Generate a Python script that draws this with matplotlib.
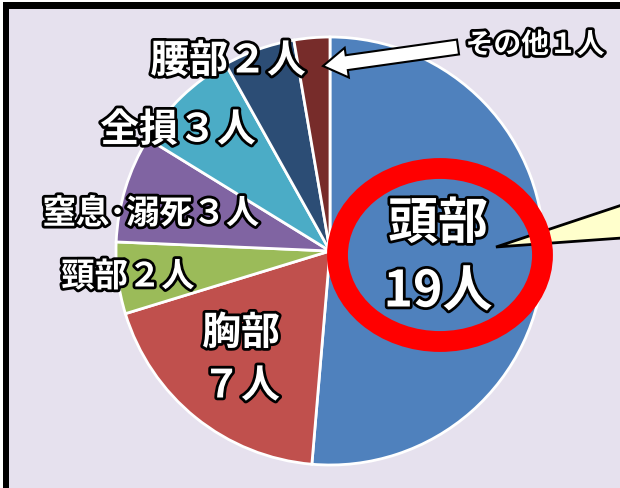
import matplotlib
matplotlib.use("Agg")
import matplotlib.pyplot as plt
import matplotlib.patches as mpatches
import matplotlib.patheffects as pe

plt.rcParams['font.family'] = ['Noto Sans CJK JP', 'DejaVu Sans']

# data: clockwise from the top
categories = ["頭部", "胸部", "頸部", "窒息･溺死", "全損", "腰部", "その他"]
counts = [19, 7, 2, 3, 3, 2, 1]
colors = ["#4f81bd", "#c0504d", "#9bbb59", "#8064a2", "#4bacc6", "#2c4d75", "#772c2a"]

W, H = 620, 488


def py(y):
    # pixel row (from top) -> data y
    return H - y


def wide(n):
    # full-width digits, as in the inline labels
    return str(n).translate(str.maketrans("0123456789", "０１２３４５６７８９"))


fig = plt.figure(figsize=(W / 100, H / 100), dpi=100)
fig.patch.set_facecolor("white")
ax = fig.add_axes([0, 0, 1, 1])

ax.add_patch(mpatches.Rectangle((3, 0), W, H - 3, facecolor="#e6e1ee", edgecolor="none", zorder=0))
ax.add_patch(mpatches.Rectangle((3, 0), 6, H - 2, facecolor="black", edgecolor="none", zorder=1))
ax.add_patch(mpatches.Rectangle((3, py(9)), W, 7, facecolor="black", edgecolor="none", zorder=1))

ax.pie(counts, colors=colors, startangle=90, counterclock=False,
       center=(330, py(251)), radius=214, frame=True,
       wedgeprops=dict(edgecolor="white", linewidth=2))
ax.set_xlim(0, W)
ax.set_ylim(0, H)
ax.set_aspect("equal")
ax.axis("off")

# speech callout wedge
ax.add_patch(mpatches.Polygon([(496, py(247)), (622, py(205)), (622, py(238))],
                              closed=True, facecolor="#ffffcc", edgecolor="black",
                              linewidth=2, zorder=4))

# red highlight ring
ax.add_patch(mpatches.Ellipse((440, py(255)), 205, 173, facecolor="none",
                              edgecolor="#ff0000", linewidth=15, zorder=5))

# arrow to その他
ax.add_patch(mpatches.FancyArrow(458, py(47), -135, py(66) - py(47), width=15,
                                 head_width=30, head_length=24, length_includes_head=True,
                                 facecolor="white", edgecolor="black", linewidth=1.5, zorder=6))

stroke = [pe.withStroke(linewidth=4, foreground="black")]


def label(x, y, s, size):
    ax.text(x, py(y), s, fontsize=size, color="white", ha="center", va="center",
            fontweight="bold", path_effects=stroke, zorder=7)


label(438, 224, categories[0], 36)
label(438, 292, f"{counts[0]}人", 36)
label(241, 333, categories[1], 28)
label(241, 386, f"{wide(counts[1])}人", 28)
label(128, 277, f"{categories[2]}{wide(counts[2])}人", 24)
label(151, 214, f"{categories[3]}{wide(counts[3])}人", 24)
label(178, 130, f"{categories[4]}{wide(counts[4])}人", 28)
label(228, 61, f"{categories[5]}{wide(counts[5])}人", 28)
label(535, 45, f"{categories[6]}{wide(counts[6])}人", 20)

fig.savefig("out.png", dpi=100)
